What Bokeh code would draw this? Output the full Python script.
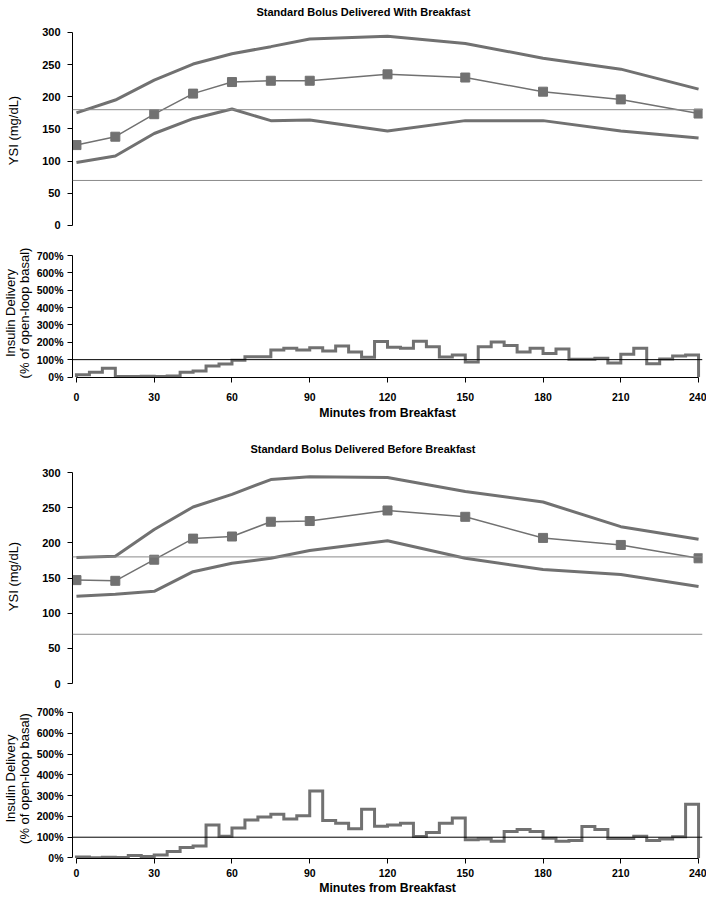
import numpy as np
from bokeh.plotting import figure
from bokeh.layouts import column
from bokeh.models import Range1d, Span, FixedTicker, PrintfTickFormatter
from bokeh.embed import file_html
from bokeh.resources import INLINE

# ---------------- data ----------------
minutes = [0, 15, 30, 45, 60, 75, 90, 120, 150, 180, 210, 240]

with_mean = [125, 138, 173, 205, 223, 225, 225, 235, 230, 208, 196, 174]
with_upper = [175, 195, 226, 251, 267, 278, 290, 294, 283, 260, 243, 212]
with_lower = [98, 108, 143, 166, 181, 163, 164, 147, 163, 163, 147, 136]

before_mean = [147, 146, 176, 206, 209, 230, 231, 246, 237, 207, 197, 178]
before_upper = [179, 181, 219, 251, 269, 290, 294, 293, 273, 258, 223, 205]
before_lower = [124, 127, 131, 159, 171, 178, 189, 203, 178, 162, 155, 138]

target_lines = [70, 180]
basal_line = 100

bin_width = 5
insulin_with = [13, 27, 50, 3, 3, 5, 3, 6, 27, 35, 63, 75,
                96, 117, 117, 156, 165, 156, 169, 150, 179, 144, 114, 204,
                171, 165, 206, 175, 115, 127, 87, 175, 202, 181, 144, 165,
                135, 162, 102, 102, 108, 81, 131, 165, 77, 104, 121, 127]
insulin_before = [5, 1, 4, 2, 12, 7, 14, 31, 50, 58, 159, 105,
                  144, 183, 197, 211, 188, 203, 322, 181, 167, 141, 235, 153,
                  159, 167, 103, 123, 167, 192, 88, 92, 80, 128, 137, 128,
                  95, 80, 84, 152, 137, 94, 94, 105, 84, 91, 102, 259]

glucose_ticks = [0, 50, 100, 150, 200, 250, 300]
insulin_ticks = [0, 100, 200, 300, 400, 500, 600, 700]
minute_ticks = [0, 30, 60, 90, 120, 150, 180, 210, 240]

title_with = "Standard Bolus Delivered With Breakfast"
title_before = "Standard Bolus Delivered Before Breakfast"

# ---------------- styling ----------------
FONT = "'Liberation Sans', Arial, sans-serif"
GRAY = "#717171"
W = 706
LEFT = 62
RIGHT = 4
X_RANGE = (-1.519, 241.519)


def style_common(p):
    p.outline_line_color = None
    p.grid.visible = False
    p.background_fill_color = "white"
    p.border_fill_color = "white"
    for ax in p.axis:
        ax.axis_line_color = "black"
        ax.axis_line_width = 1
        ax.major_tick_line_color = "black"
        ax.major_tick_out = 5
        ax.major_tick_in = 0
        ax.minor_tick_line_color = None
        ax.major_label_text_font = FONT
        ax.major_label_text_font_style = "bold"
        ax.major_label_text_color = "black"
        ax.axis_label_text_font = FONT
        ax.axis_label_text_color = "black"


def glucose_fig(title, mean, upper, lower, height, border_top, yr, standoff, offset):
    p = figure(width=W, height=height, output_backend="svg", toolbar_location=None,
               x_range=Range1d(*X_RANGE), y_range=Range1d(*yr),
               x_axis_location=None, min_border_left=LEFT, min_border_right=RIGHT,
               min_border_top=border_top, min_border_bottom=0, title=title)
    style_common(p)
    p.title.text_font = FONT
    p.title.text_font_size = "11px"
    p.title.text_font_style = "bold"
    p.title.text_color = "black"
    p.title.align = "left"
    p.title.offset = offset
    p.title.standoff = standoff
    ax = p.yaxis[0]
    ax.ticker = FixedTicker(ticks=glucose_ticks)
    ax.bounds = (glucose_ticks[0], glucose_ticks[-1])
    ax.major_label_text_font_size = "11px"
    ax.major_label_standoff = 7
    ax.axis_label = "YSI (mg/dL)"
    ax.axis_label_text_font_size = "13px"
    ax.axis_label_text_font_style = "normal"
    ax.axis_label_standoff = 18
    for t in target_lines:
        p.add_layout(Span(location=t, dimension="width", line_color="#8a8a8a", line_width=1))
    p.line(minutes, upper, line_color=GRAY, line_width=3)
    p.line(minutes, lower, line_color=GRAY, line_width=3)
    p.line(minutes, mean, line_color=GRAY, line_width=1.5)
    p.scatter(minutes, mean, marker="square", size=9, fill_color=GRAY, line_color=GRAY)
    return p


def insulin_fig(values, height, yr, border_bottom, tick_standoff, label_standoff):
    p = figure(width=W, height=height, output_backend="svg", toolbar_location=None,
               x_range=Range1d(*X_RANGE), y_range=Range1d(*yr),
               min_border_left=LEFT, min_border_right=RIGHT,
               min_border_top=8, min_border_bottom=border_bottom)
    style_common(p)
    xa = p.xaxis[0]
    xa.ticker = FixedTicker(ticks=minute_ticks)
    xa.bounds = (minute_ticks[0], minute_ticks[-1])
    xa.major_label_text_font_size = "10.5px"
    xa.major_label_standoff = tick_standoff
    xa.axis_label = "Minutes from Breakfast"
    xa.axis_label_text_font_size = "12.3px"
    xa.axis_label_text_font_style = "bold"
    xa.axis_label_standoff = label_standoff
    ya = p.yaxis[0]
    ya.ticker = FixedTicker(ticks=insulin_ticks)
    ya.bounds = (insulin_ticks[0], insulin_ticks[-1])
    ya.formatter = PrintfTickFormatter(format="%d%%")
    ya.major_label_text_font_size = "10.5px"
    ya.major_label_standoff = 4
    ya.axis_label = "Insulin Delivery\n(% of open-loop basal)"
    ya.axis_label_text_font_size = "13px"
    ya.axis_label_text_font_style = "normal"
    ya.axis_label_text_line_height = 0.9
    ya.axis_label_standoff = 2
    p.add_layout(Span(location=basal_line, dimension="width", line_color="black", line_width=1))
    starts = np.arange(len(values)) * bin_width
    xs = [starts[0]]
    ys = [0]
    for s, v in zip(starts, values):
        xs += [s, s + bin_width]
        ys += [v, v]
    xs.append(starts[-1] + bin_width)
    ys.append(0)
    p.line(xs, ys, line_color=GRAY, line_width=3, line_join="miter")
    return p


f1 = glucose_fig(title_with, with_mean, with_upper, with_lower, 240, 20, (-23.32, 318.65), 6, 184)
f2 = insulin_fig(insulin_with, 183, (-2.88, 740.33), 46, 10, 2)
f3 = glucose_fig(title_before, before_mean, before_upper, before_lower, 267, 39, (-9.95, 314.22), 15, 178)
f4 = insulin_fig(insulin_before, 207, (-2.41, 767.35), 39, 5, 1)

layout = column(f1, f2, f3, f4, spacing=0)
open("out.html", "w").write(file_html(layout, INLINE))
